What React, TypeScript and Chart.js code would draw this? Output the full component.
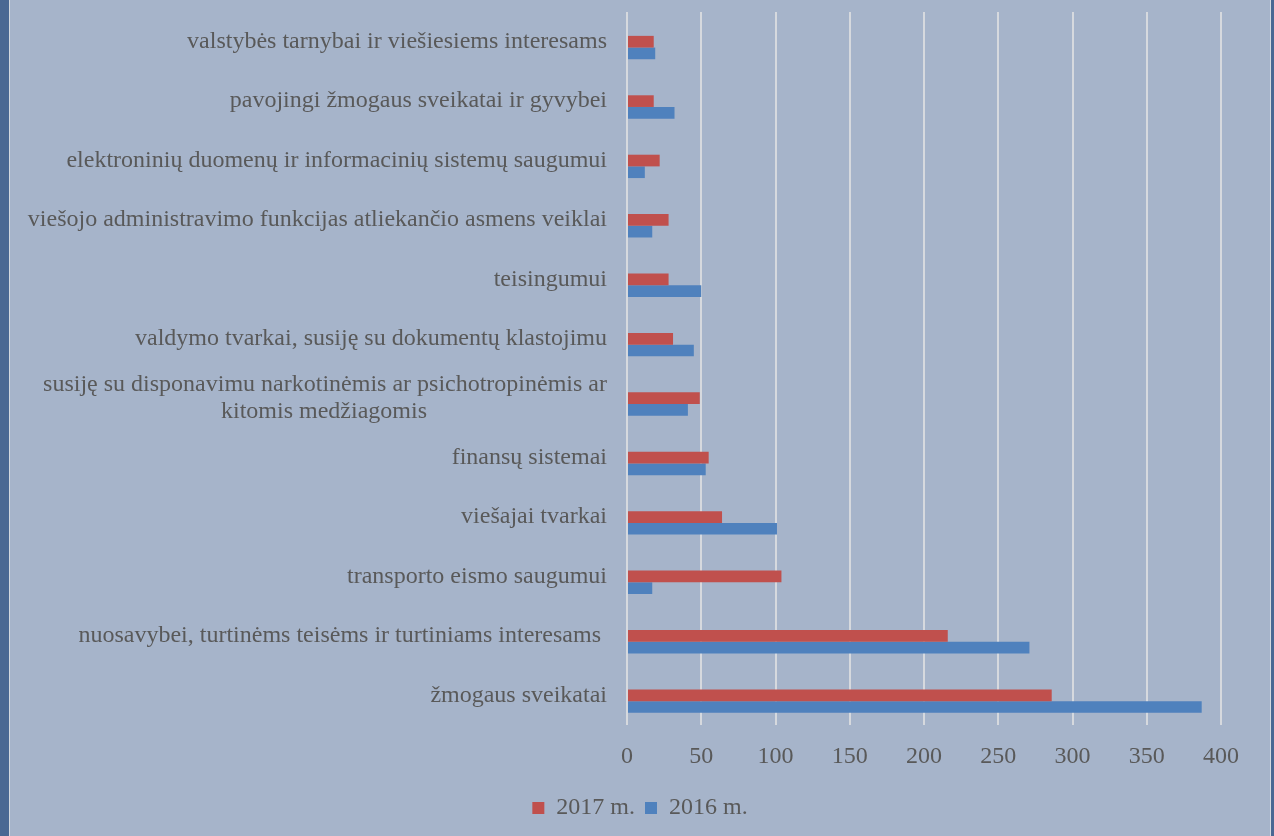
import React, { useEffect, useRef } from "react";
import { Chart, registerables } from "chart.js";

Chart.register(...registerables);

const categories: (string | string[])[] = [
  "valstybės tarnybai ir viešiesiems interesams",
  "pavojingi žmogaus sveikatai ir gyvybei",
  "elektroninių duomenų ir informacinių sistemų saugumui",
  "viešojo administravimo funkcijas atliekančio asmens veiklai",
  "teisingumui",
  "valdymo tvarkai, susiję su dokumentų klastojimu",
  [
    "susiję su disponavimu narkotinėmis ar psichotropinėmis ar",
    "kitomis medžiagomis" + "\u00a0".repeat(30),
  ],
  "finansų sistemai",
  "viešajai tvarkai",
  "transporto eismo saugumui",
  "nuosavybei, turtinėms teisėms ir turtiniams interesams ",
  "žmogaus sveikatai",
];

const values2017 = [18, 18, 22, 28, 28, 31, 49, 55, 64, 104, 216, 286];
const values2016 = [19, 32, 12, 17, 50, 45, 41, 53, 101, 17, 271, 387];
const spacer = [0, 0, 0, 0, 0, 0, 0, 0, 0, 0, 0, 0];

const xTicks = [0, 50, 100, 150, 200, 250, 300, 350, 400];

const FONT = "'Liberation Serif', 'Times New Roman', serif";
const TEXT = "#595959";

export default function App() {
  const ref = useRef<HTMLCanvasElement | null>(null);

  useEffect(() => {
    if (!ref.current) return;
    const chart = new Chart(ref.current, {
      type: "bar",
      data: {
        labels: categories,
        datasets: [
          {
            label: "",
            data: spacer,
            backgroundColor: "rgba(0,0,0,0)",
            borderWidth: 0,
          },
          {
            label: "2017 m.",
            data: values2017,
            backgroundColor: "#c0504d",
            borderWidth: 0,
          },
          {
            label: "2016 m.",
            data: values2016,
            backgroundColor: "#4f81bd",
            borderWidth: 0,
          },
        ],
      },
      options: {
        indexAxis: "y",
        animation: false,
        responsive: false,
        maintainAspectRatio: false,
        datasets: {
          bar: { categoryPercentage: 0.59, barPercentage: 1 },
        },
        layout: { padding: { top: 12, right: 0, bottom: 6, left: 0 } },
        scales: {
          x: {
            min: 0,
            max: 400,
            afterBuildTicks: (scale: any) => {
              scale.ticks = xTicks.map((v) => ({ value: v }));
            },
            afterFit: (scale: any) => {
              scale.height = 61;
              scale.paddingLeft = 0;
              scale.paddingRight = 49;
              scale.paddingTop = 0;
              scale.paddingBottom = 0;
            },
            grid: { color: "#d6d9de", lineWidth: 2, drawTicks: false },
            border: { display: false },
            ticks: {
              padding: 17,
              color: TEXT,
              font: { family: FONT, size: 24 },
            },
          },
          y: {
            afterFit: (scale: any) => {
              scale.width = 617;
              scale.paddingLeft = 0;
              scale.paddingRight = 0;
              scale.paddingTop = 0;
              scale.paddingBottom = 0;
            },
            grid: { display: false, drawTicks: false },
            border: { display: false },
            ticks: {
              padding: 20,
              color: TEXT,
              autoSkip: false,
              font: { family: FONT, size: 24, lineHeight: 1.15 },
            },
          },
        },
        plugins: {
          legend: {
            position: "bottom",
            labels: {
              boxWidth: 12,
              boxHeight: 12,
              padding: 10,
              color: TEXT,
              font: { family: FONT, size: 24 },
              filter: (item: any) => item.text !== "",
            },
          },
          tooltip: { enabled: false },
        },
      },
    });
    return () => chart.destroy();
  }, []);

  return (
    <div
      style={{
        position: "fixed",
        left: 0,
        top: 0,
        width: 1274,
        height: 836,
        background: "#a6b4ca",
        overflow: "hidden",
      }}
    >
      <div style={{ position: "absolute", left: 0, top: 0, width: 9, height: 836, background: "#4a6893" }} />
      <div style={{ position: "absolute", left: 9, top: 0, width: 1, height: 836, background: "#d3d8df" }} />
      <div style={{ position: "absolute", left: 1270, top: 0, width: 1, height: 836, background: "#d3d8df" }} />
      <div style={{ position: "absolute", left: 1271, top: 0, width: 3, height: 836, background: "#4a6893" }} />
      <canvas
        ref={ref}
        width={1260}
        height={836}
        style={{ position: "absolute", left: 10, top: 0, width: 1260, height: 836 }}
      />
    </div>
  );
}
